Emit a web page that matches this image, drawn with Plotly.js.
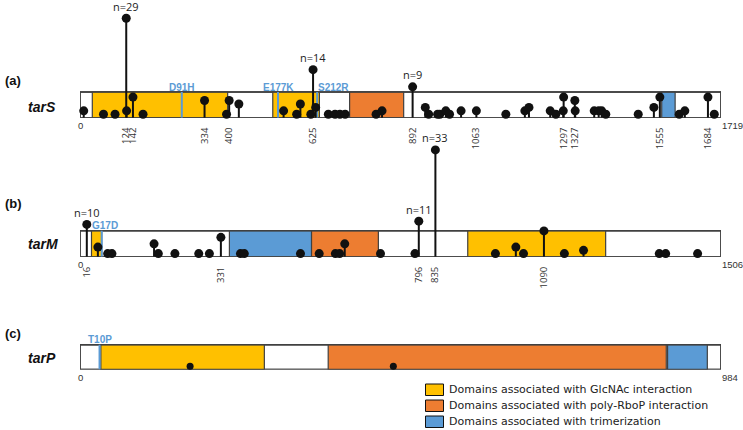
<!DOCTYPE html>
<html><head><meta charset="utf-8">
<script src="https://cdn.plot.ly/plotly-3.0.1.min.js"></script>
<style>html,body{margin:0;padding:0;background:#fff}#chart{width:743px;height:430px}</style>
</head><body><div id="chart"></div>
<script>
// ---------------- DATA ----------------
const genes = ['tarS', 'tarM', 'tarP'];
const panelLabels = ['(a)', '(b)', '(c)'];
const geneLengths = [1719, 1506, 984];

// tarS mutations (nucleotide position, number of isolates)
const tarS_pos   = [10, 63, 94, 125, 124, 142, 169, 334, 393, 400, 426, 546, 581, 591, 619, 625, 632, 666, 684, 697, 711, 794, 810, 892, 926, 935, 959, 965, 981, 991, 1022, 1063, 1142, 1193, 1204, 1261, 1276, 1297, 1296, 1327, 1328, 1379, 1391, 1399, 1410, 1497, 1539, 1555, 1607, 1622, 1684, 1701];
const tarS_count = [2, 1, 1, 2, 29, 6, 1, 5, 1, 5, 4, 2, 1, 4, 1, 14, 3, 1, 1, 1, 1, 1, 2, 9, 3, 1, 1, 1, 2, 1, 2, 2, 1, 2, 3, 2, 1, 6, 2, 5, 2, 2, 2, 2, 1, 1, 3, 6, 1, 2, 6, 1];
const tarS_ticks = [124, 142, 334, 400, 625, 892, 1063, 1297, 1327, 1555, 1684];
const tarS_domStart = [33, 517, 723, 1560];
const tarS_domEnd   = [396, 642, 868, 1596];
const tarS_domType  = ['GlcNAc', 'GlcNAc', 'RboP', 'trimer'];
const tarS_mutName  = ['D91H', 'E177K', 'S212R'];
const tarS_mutPos   = [273, 531, 636];

// tarM
const tarM_pos   = [16, 42, 65, 75, 174, 184, 223, 279, 304, 331, 377, 386, 518, 562, 600, 610, 622, 706, 787, 796, 835, 976, 1024, 1042, 1090, 1138, 1183, 1361, 1376, 1451];
const tarM_count = [10, 3, 1, 1, 4, 1, 1, 1, 1, 6, 1, 1, 1, 1, 1, 1, 4, 1, 1, 11, 33, 1, 3, 1, 8, 1, 2, 1, 1, 1];
const tarM_ticks = [16, 331, 796, 835, 1090];
const tarM_domStart = [27, 351, 544, 911];
const tarM_domEnd   = [51, 544, 701, 1235];
const tarM_domType  = ['GlcNAc', 'trimer', 'RboP', 'GlcNAc'];
const tarM_mutName  = ['G17D'];
const tarM_mutPos   = [51];

// tarP
const tarP_pos   = [169, 481];
const tarP_count = [1, 1];
const tarP_ticks = [];
const tarP_domStart = [32, 381, 902];
const tarP_domEnd   = [283, 900, 963];
const tarP_domType  = ['GlcNAc', 'RboP', 'trimer'];
const tarP_mutName  = ['T10P'];
const tarP_mutPos   = [30];

const legendTypes  = ['GlcNAc', 'RboP', 'trimer'];
const legendLabels = ['Domains associated with GlcNAc interaction',
                      'Domains associated with poly-RboP interaction',
                      'Domains associated with trimerization'];
const labelThreshold = 9;

// ---------------- STYLE ----------------
const domColors = {GlcNAc: '#FFC000', RboP: '#ED7D31', trimer: '#5B9BD5'};
const W = 743, H = 430;
const px = v => v / W, py = v => 1 - v / H;
const xDomain = [80 / W, 721 / W];
const panels = [
  {base: 117.7, top: 0,   k: 3.43, barTop: 7.49, ms: 9, labelY: 80,  nameY: 107},
  {base: 256.8, top: 125, k: 3.24, barTop: 8.06, ms: 9, labelY: 203, nameY: 244},
  {base: 369.5, top: 335, k: 3.3,  barTop: 7.52, ms: 7, labelY: 333, nameY: 358}
];
const geneData = [
  {pos: tarS_pos, count: tarS_count, ticks: tarS_ticks, ds: tarS_domStart, de: tarS_domEnd, dt: tarS_domType, mn: tarS_mutName, mp: tarS_mutPos},
  {pos: tarM_pos, count: tarM_count, ticks: tarM_ticks, ds: tarM_domStart, de: tarM_domEnd, dt: tarM_domType, mn: tarM_mutName, mp: tarM_mutPos},
  {pos: tarP_pos, count: tarP_count, ticks: tarP_ticks, ds: tarP_domStart, de: tarP_domEnd, dt: tarP_domType, mn: tarP_mutName, mp: tarP_mutPos}
];
const mutShift = {'S212R': {anchor: 'left', dx: -1}, 'G17D': {anchor: 'center', dx: 3}};

const traces = [], shapes = [], annotations = [];
const layout = {
  width: W, height: H, margin: {l: 0, r: 0, t: 0, b: 0},
  paper_bgcolor: '#fff', plot_bgcolor: 'rgba(0,0,0,0)', showlegend: false,
  font: {family: 'Liberation Sans, Arial, sans-serif', color: '#222'}
};
const tickFont = {family: 'Open Sans, sans-serif', size: 9.5, color: '#333'};
const endFont = {family: 'Liberation Sans, Arial, sans-serif', size: 9.5, color: '#333'};

genes.forEach((g, i) => {
  const s = i === 0 ? '' : String(i + 1);
  const P = panels[i], D = geneData[i], L = geneLengths[i];
  const xa = 'x' + s, ya = 'y' + s;
  const yTop = (P.base - P.top) / P.k;
  layout['xaxis' + s] = {
    domain: xDomain, range: [0, L], anchor: ya, showgrid: false, zeroline: false,
    showline: false, ticks: '', tickmode: 'array', tickvals: D.ticks,
    ticktext: D.ticks.map(String), tickangle: -90, tickfont: tickFont,
    ticklabelstandoff: 7, fixedrange: true
  };
  layout['yaxis' + s] = {
    domain: [py(P.base), py(P.top)], range: [0, yTop], visible: false,
    anchor: xa, fixedrange: true
  };
  shapes.push({type: 'rect', xref: xa, yref: ya, x0: 0, x1: L, y0: 0, y1: P.barTop,
    fillcolor: '#fff', line: {color: '#404040', width: 1.5}, layer: 'below'});
  D.ds.forEach((st, j) => {
    shapes.push({type: 'rect', xref: xa, yref: ya, x0: st, x1: D.de[j], y0: 0, y1: P.barTop,
      fillcolor: domColors[D.dt[j]], line: {color: '#404040', width: 1.2}, layer: 'below'});
  });
  shapes.push({type: 'rect', xref: xa, yref: ya, x0: 0, x1: L, y0: 0, y1: P.barTop,
    fillcolor: 'rgba(0,0,0,0)', line: {color: '#404040', width: 1.5}, layer: 'below'});
  D.mp.forEach((m, j) => {
    shapes.push({type: 'line', xref: xa, yref: ya, x0: m, x1: m, y0: 0, y1: P.barTop,
      line: {color: '#5B9BD5', width: 2}, layer: 'below'});
    const sh = mutShift[D.mn[j]] || {anchor: 'center', dx: 0};
    annotations.push({xref: xa, yref: ya, x: m, y: P.barTop, yanchor: 'middle',
      xanchor: sh.anchor, xshift: sh.dx, yshift: 5, showarrow: false,
      text: '<b>' + D.mn[j] + '</b>', font: {size: 10, color: '#5B9BD5', family: 'Liberation Sans, Arial, sans-serif'}});
  });
  const sx = [], sy = [];
  D.pos.forEach((p, j) => { sx.push(p, p, null); sy.push(0, D.count[j], null); });
  traces.push({type: 'scatter', mode: 'lines', x: sx, y: sy, xaxis: xa, yaxis: ya,
    line: {color: '#111', width: 2}, hoverinfo: 'skip', cliponaxis: false});
  traces.push({type: 'scatter', mode: 'markers', x: D.pos, y: D.count, xaxis: xa, yaxis: ya,
    marker: {size: P.ms, color: '#111'}, hoverinfo: 'x+y', cliponaxis: false});
  D.pos.forEach((p, j) => {
    if (D.count[j] >= labelThreshold) {
      annotations.push({xref: xa, yref: ya, x: p, y: D.count[j], yanchor: 'middle', yshift: 12,
        showarrow: false, text: 'n=' + D.count[j], borderpad: 0,
        font: {size: 11, color: '#222', family: 'Open Sans, sans-serif'}});
    }
  });
  annotations.push({xref: xa, yref: ya, x: 0, y: 0, xanchor: 'center', yanchor: 'middle', yshift: -8,
    showarrow: false, text: '0', font: endFont, borderpad: 0});
  annotations.push({xref: xa, yref: ya, x: L, y: 0, xanchor: 'left', yanchor: 'middle', xshift: 0, yshift: -8,
    showarrow: false, text: String(L), font: endFont, borderpad: 0});
  annotations.push({xref: 'paper', yref: 'paper', x: px(3), y: py(P.labelY), xanchor: 'left', yanchor: 'middle',
    showarrow: false, text: '<b>' + panelLabels[i] + '</b>', font: {size: 13, color: '#111'}});
  annotations.push({xref: 'paper', yref: 'paper', x: px(26), y: py(P.nameY), xanchor: 'left', yanchor: 'middle',
    showarrow: false, text: '<b><i>' + g + '</i></b>', font: {size: 14, color: '#111'}});
});

legendTypes.forEach((t, j) => {
  const top = 384 + j * 16;
  shapes.push({type: 'rect', xref: 'paper', yref: 'paper', x0: px(425.5), x1: px(443.5),
    y0: py(top + 11.5), y1: py(top), fillcolor: domColors[t], line: {color: '#111', width: 1}});
  annotations.push({xref: 'paper', yref: 'paper', x: px(447), y: py(top + 5.5), xanchor: 'left',
    yanchor: 'middle', showarrow: false, text: legendLabels[j],
    font: {size: 11, color: '#222', family: 'DejaVu Sans, sans-serif'}});
});

layout.shapes = shapes;
layout.annotations = annotations;
Plotly.newPlot('chart', traces, layout, {staticPlot: true, displayModeBar: false});
</script>
</body></html>
